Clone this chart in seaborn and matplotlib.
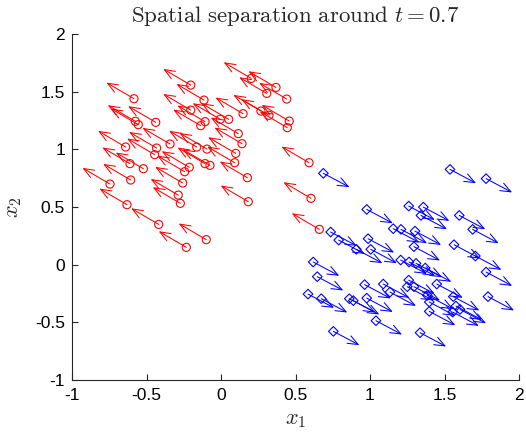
import numpy as np
import pandas as pd
import matplotlib
matplotlib.use("Agg")
import matplotlib.pyplot as plt
import seaborn as sns

# ---- data ----
red_x = [-0.584, -0.203, -0.114, 0.203, 0.307, 0.369, 0.441, 0.148, 0.052, -0.005,
         -0.203, -0.107, -0.136, 0.268, 0.322, 0.458, 0.445, -0.438, -0.575, -0.555,
         -0.640, -0.432, -0.342, -0.445, -0.163, -0.094, 0.116, 0.141, 0.099, 0.092,
         -0.107, -0.074, -0.213, -0.244, -0.611, -0.521, -0.606, -0.745, -0.257, 0.177,
         -0.287, -0.273, -0.631, -0.418, 0.183, -0.099, -0.233, 0.591, 0.604, 0.660]
red_y = [1.439, 1.557, 1.427, 1.615, 1.485, 1.537, 1.436, 1.309, 1.260, 1.260,
         1.340, 1.240, 1.205, 1.332, 1.295, 1.245, 1.188, 1.234, 1.243, 1.214,
         1.020, 1.011, 1.046, 0.954, 1.020, 1.002, 1.136, 1.049, 0.965, 0.884,
         0.876, 0.861, 0.844, 0.806, 0.876, 0.832, 0.734, 0.699, 0.708, 0.754,
         0.603, 0.532, 0.520, 0.349, 0.546, 0.217, 0.150, 0.884, 0.575, 0.306]
red_u = -0.185
red_v = 0.14

blue_x = [0.687, 1.537, 1.779, 0.978, 1.260, 1.358, 1.342, 1.599, 1.689, 1.156,
          1.208, 1.302, 0.736, 0.790, 0.987, 0.908, 1.005, 1.295, 1.564, 1.707,
          1.206, 1.262, 1.309, 1.371, 0.619, 0.646, 1.779, 0.964, 1.089, 1.134,
          1.260, 1.250, 1.295, 1.448, 1.385, 1.398, 1.559, 1.577, 1.604, 1.555,
          0.584, 0.673, 0.861, 0.888, 0.978, 1.792, 1.398, 1.040, 0.754, 1.336]
blue_y = [0.792, 0.826, 0.746, 0.479, 0.508, 0.499, 0.427, 0.427, 0.306, 0.312,
          0.306, 0.291, 0.283, 0.213, 0.225, 0.133, 0.133, 0.156, 0.173, 0.075,
          0.040, 0.023, 0.011, -0.029, 0.023, -0.104, -0.064, -0.173, -0.168, -0.238,
          -0.134, -0.191, -0.191, -0.168, -0.266, -0.324, -0.277, -0.359, -0.388, -0.411,
          -0.255, -0.295, -0.295, -0.312, -0.290, -0.277, -0.405, -0.486, -0.578, -0.590]
blue_u = 0.175
blue_v = -0.12

ticks = [-1, -0.5, 0, 0.5, 1, 1.5, 2]
tick_labels = ["-1", "-0.5", "0", "0.5", "1", "1.5", "2"]
title = r"$\mathrm{Spatial\ separation\ around\ }t=0.7$"

# ---- plot ----
sns.set_style("white")
plt.rcParams["font.family"] = ["Liberation Sans", "DejaVu Sans"]
plt.rcParams["mathtext.fontset"] = "cm"
plt.rcParams["axes.unicode_minus"] = False

fig = plt.figure(figsize=(5.26, 4.34), dpi=100)
ax = fig.add_axes([72/526, 1-380/434, (519-72)/526, (380-34)/434])

def arrows(xs, ys, u, v, color):
    for x0, y0 in zip(xs, ys):
        ax.annotate("", xy=(x0 + u, y0 + v), xytext=(x0, y0),
                    arrowprops=dict(arrowstyle="->,head_length=0.75,head_width=0.3",
                                    color=color, lw=0.75, shrinkA=0, shrinkB=0,
                                    mutation_scale=10))

arrows(red_x, red_y, red_u, red_v, "red")
arrows(blue_x, blue_y, blue_u, blue_v, "blue")

red_df = pd.DataFrame({"x": red_x, "y": red_y})
blue_df = pd.DataFrame({"x": blue_x, "y": blue_y})
sns.scatterplot(data=red_df, x="x", y="y", ax=ax, marker="o", s=34,
                facecolors="none", edgecolors="red", linewidth=0.8, zorder=3)
sns.scatterplot(data=blue_df, x="x", y="y", ax=ax, marker="D", s=24,
                facecolors="none", edgecolors="blue", linewidth=0.8, zorder=3)

ax.set_xlim(-1, 2)
ax.set_ylim(-1, 2)
ax.set_xticks(ticks)
ax.set_xticklabels(tick_labels)
ax.set_yticks(ticks)
ax.set_yticklabels(tick_labels)
ax.tick_params(direction="in", length=4, width=0.8, colors="#262626",
               labelsize=12.5, labelcolor="black", left=True, bottom=True)
ax.tick_params(axis="x", pad=6)
ax.tick_params(axis="y", pad=5)
for s in ["top", "right"]:
    ax.spines[s].set_visible(False)
for s in ["left", "bottom"]:
    ax.spines[s].set_color("#262626")
    ax.spines[s].set_linewidth(0.8)

ax.set_xlabel(r"$x_1$", fontsize=16, labelpad=4)
ax.set_ylabel(r"$x_2$", fontsize=16, labelpad=8)
ax.set_title(title, fontsize=16.5, pad=9)

fig.savefig("out.png", dpi=100)
